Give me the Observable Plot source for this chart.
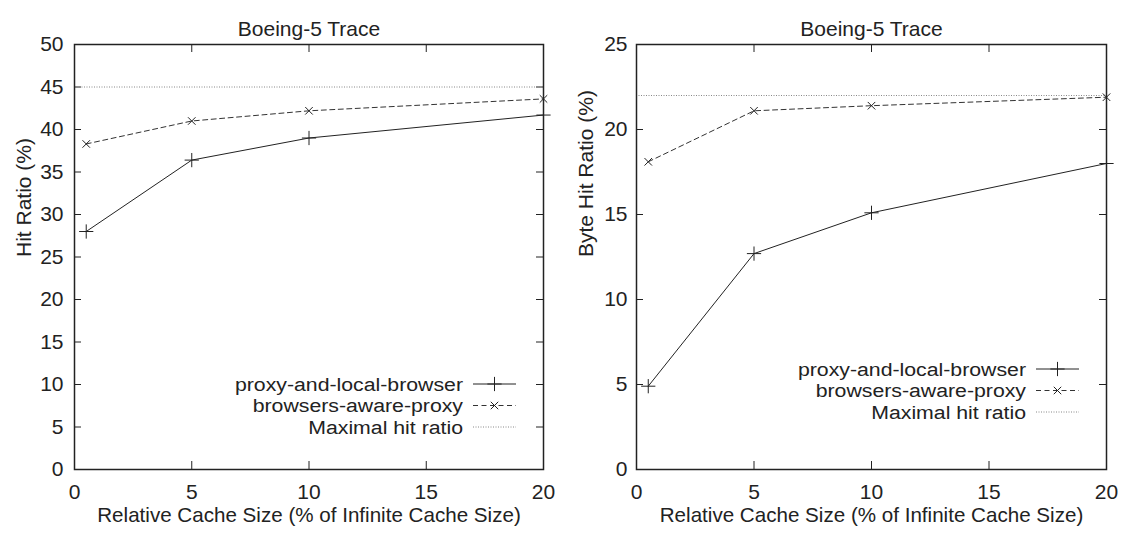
<!DOCTYPE html>
<html>
<head>
<meta charset="utf-8">
<script src="https://cdn.jsdelivr.net/npm/d3@7"></script>
<script src="https://cdn.jsdelivr.net/npm/@observablehq/plot@0.6"></script>
<style>
  html, body { margin: 0; padding: 0; background: #fff; }
  #wrap { display: flex; width: 1125px; height: 535px; }
</style>
</head>
<body>
<div id="wrap"></div>
<script>
// ---- data ----
const chartTitle = "Boeing-5 Trace";
const xLabel = "Relative Cache Size (% of Infinite Cache Size)";
const seriesNames = ["proxy-and-local-browser", "browsers-aware-proxy", "Maximal hit ratio"];
const xTicks = [0, 5, 10, 15, 20];
const cacheSize = [0.5, 5, 10, 20];

const hitLabel = "Hit Ratio (%)";
const hitTicks = [0, 5, 10, 15, 20, 25, 30, 35, 40, 45, 50];
const hitProxyLocal = [28, 36.4, 39, 41.7];
const hitAwareProxy = [38.3, 41, 42.2, 43.6];
const hitMaximal = 45;

const byteLabel = "Byte Hit Ratio (%)";
const byteTicks = [0, 5, 10, 15, 20, 25];
const byteProxyLocal = [4.9, 12.7, 15.1, 18];
const byteAwareProxy = [18.1, 21.1, 21.4, 21.9];
const byteMaximal = 22;

// ---- rendering ----
const INK = "#222";
const FONT = "'Liberation Sans', Arial, Helvetica, sans-serif";
const FS = 21;

function makePanel({width, yTicks, yLabel, solid, dashed, maximal, legendTop, tickPad}) {
  const height = 535, mL = 74, mR = 19, mT = 44, mB = 66;
  const plotW = width - mL - mR, plotH = height - mT - mB;
  const solidData = cacheSize.map((x, i) => ({x, y: solid[i]}));
  const dashedData = cacheSize.map((x, i) => ({x, y: dashed[i]}));

  const legendRows = [
    {label: seriesNames[0], dash: null, stroke: INK, symbol: d3.symbolPlus, size: 68},
    {label: seriesNames[1], dash: "5,3.5", stroke: "#333", symbol: d3.symbolTimes, size: 38},
    {label: seriesNames[2], dash: "1,1.5", stroke: "#888", symbol: null}
  ];

  const legend = () => {
    const right = width - mR, bottom = height - mB;
    const g = d3.create("svg:g").attr("font-family", FONT).attr("font-size", 19).attr("fill", INK);
    legendRows.forEach((r, i) => {
      const cy = bottom - legendTop + i * 21.5;
      g.append("text")
        .attr("transform", `translate(${right - 80},${cy + 6.8}) scale(1.12,1)`)
        .attr("text-anchor", "end").text(r.label);
      const line = g.append("line").attr("x1", right - 70).attr("x2", right - 27)
        .attr("y1", cy).attr("y2", cy).attr("stroke", r.stroke).attr("stroke-width", 1);
      if (r.dash) line.attr("stroke-dasharray", r.dash);
      if (r.symbol) {
        g.append("path").attr("transform", `translate(${right - 48.5},${cy})`)
          .attr("d", d3.symbol(r.symbol, r.size)()).attr("fill", "none").attr("stroke", INK).attr("stroke-width", 1);
      }
    });
    return g.node();
  };

  return Plot.plot({
    width, height,
    marginLeft: mL, marginRight: mR, marginTop: mT, marginBottom: mB,
    style: {fontFamily: FONT, fontSize: FS + "px", color: INK, background: "#fff", overflow: "visible"},
    x: {domain: [0, 20]},
    y: {domain: [yTicks[0], yTicks[yTicks.length - 1]]},
    marks: [
      Plot.axisX({ticks: xTicks, tickSize: 0, tickPadding: 15, label: null, fontSize: FS}),
      Plot.axisY({ticks: yTicks, tickSize: 0, tickPadding: tickPad, label: null, fontSize: FS}),
      // inward ticks on all four sides
      Plot.tickX(xTicks, {x: d => d, insetTop: plotH - 8, stroke: INK}),
      Plot.tickX(xTicks, {x: d => d, insetBottom: plotH - 8, stroke: INK}),
      Plot.tickY(yTicks, {y: d => d, insetRight: plotW - 7, stroke: INK}),
      Plot.tickY(yTicks, {y: d => d, insetLeft: plotW - 7, stroke: INK}),
      // data
      Plot.ruleY([maximal], {stroke: "#888", strokeWidth: 1, strokeDasharray: "1,1.5"}),
      Plot.line(dashedData, {x: "x", y: "y", stroke: "#333", strokeWidth: 1, strokeDasharray: "5,3.5"}),
      Plot.dot(dashedData, {x: "x", y: "y", symbol: "times", r: 3.5, stroke: INK, strokeWidth: 1}),
      Plot.line(solidData, {x: "x", y: "y", stroke: INK, strokeWidth: 1}),
      Plot.dot(solidData, {x: "x", y: "y", symbol: "plus", r: 4.65, stroke: INK, strokeWidth: 1}),
      Plot.frame({stroke: INK, strokeWidth: 1.5}),
      // texts
      Plot.text([chartTitle], {text: d => d, frameAnchor: "top", dy: -23.7, fontSize: FS, fill: INK}),
      Plot.text([xLabel], {text: d => d, frameAnchor: "bottom", dy: 52.5, fontSize: 20.6, fill: INK}),
      Plot.text([yLabel], {text: d => d, frameAnchor: "left", rotate: -90, dx: -50, fontSize: FS, fill: INK}),
      legend
    ]
  });
}

const wrap = document.getElementById("wrap");
wrap.append(makePanel({width: 562, yTicks: hitTicks, yLabel: hitLabel, solid: hitProxyLocal, dashed: hitAwareProxy, maximal: hitMaximal, legendTop: 85, tickPad: 11}));
wrap.append(makePanel({width: 563, yTicks: byteTicks, yLabel: byteLabel, solid: byteProxyLocal, dashed: byteAwareProxy, maximal: byteMaximal, legendTop: 100, tickPad: 9}));
</script>
</body>
</html>
